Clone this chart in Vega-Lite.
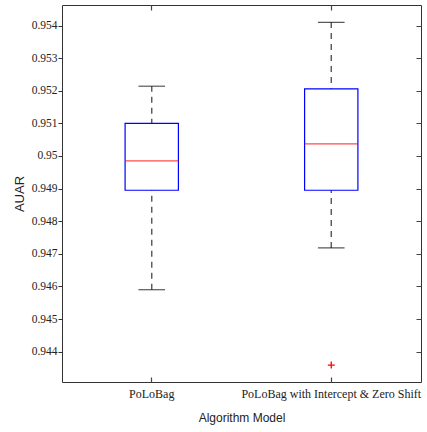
{
  "$schema": "https://vega.github.io/schema/vega-lite/v6.json",
  "width": 359,
  "height": 377,
  "autosize": {"type": "none"},
  "padding": {"left": 62, "top": 5, "right": 6, "bottom": 50},
  "background": "white",
  "config": {
    "view": {"stroke": "#333333", "strokeWidth": 1},
    "axis": {
      "grid": false, "domain": false,
      "labelFont": "Liberation Serif", "labelColor": "#222222",
      "titleFont": "Liberation Sans", "titleFontWeight": "normal", "titleColor": "#222222"
    },
    "axisBand": {"ticks": true},
    "axisDiscrete": {"ticks": true},
    "axisX": {"ticks": true}
  },
  "datasets": {
    "boxes": [
      {"model": "PoLoBag", "lower": 0.9459, "q1": 0.94895, "median": 0.94985, "q3": 0.951, "upper": 0.95214},
      {"model": "PoLoBag with Intercept & Zero Shift", "lower": 0.94718, "q1": 0.94895, "median": 0.95037, "q3": 0.95206, "upper": 0.9541}
    ],
    "outliers": [
      {"model": "PoLoBag with Intercept & Zero Shift", "value": 0.94359}
    ]
  },
  "encoding": {
    "x": {
      "field": "model",
      "type": "nominal",
      "sort": ["PoLoBag", "PoLoBag with Intercept & Zero Shift"],
      "scale": {"type": "band", "paddingInner": 0, "paddingOuter": 0},
      "axis": null
    }
  },
  "layer": [
    {
      "data": {"name": "boxes"},
      "mark": {"type": "rule", "stroke": "#555555", "strokeWidth": 1.4, "strokeDash": [6, 5]},
      "encoding": {
        "x": {
          "field": "model", "type": "nominal",
          "sort": ["PoLoBag", "PoLoBag with Intercept & Zero Shift"],
          "axis": {
            "orient": "bottom", "title": "Algorithm Model", "labelAngle": 0,
            "labelFont": "Liberation Serif", "labelFontSize": 12,
            "ticks": true, "offset": -5, "tickSize": 5, "tickColor": "#444444", "tickWidth": 1.2, "tickOpacity": 1, "labelPadding": 6,
            "titleFont": "Liberation Sans", "titleFontSize": 12, "titlePadding": 13
          }
        },
        "y": {
          "field": "lower", "type": "quantitative",
          "scale": {"domain": [0.94307, 0.95463], "nice": false, "zero": false},
          "axis": {
            "orient": "left", "title": "AUAR",
            "values": [0.944, 0.945, 0.946, 0.947, 0.948, 0.949, 0.95, 0.951, 0.952, 0.953, 0.954],
            "format": ".3~f",
            "labelFont": "Liberation Serif", "labelFontSize": 11.5,
            "tickSize": 4, "tickColor": "#333333", "labelPadding": 1,
            "titleFont": "Liberation Sans", "titleFontSize": 13, "titlePadding": 5
          }
        },
        "y2": {"field": "upper"}
      }
    },
    {
      "data": {"name": "boxes"},
      "mark": {"type": "bar", "fill": "white", "stroke": "#0000ff", "strokeWidth": 1.2, "width": {"band": 0.297}},
      "encoding": {
        "x": {
          "field": "model", "type": "nominal",
          "sort": ["PoLoBag", "PoLoBag with Intercept & Zero Shift"],
          "axis": {"orient": "top", "labels": false, "title": null, "ticks": true, "offset": -5, "tickSize": 5, "tickColor": "#444444", "tickWidth": 1.2, "tickOpacity": 1}
        },
        "y": {
          "field": "q1", "type": "quantitative",
          "axis": {
            "orient": "right", "labels": false, "title": null, "offset": -5, "tickSize": 5, "tickColor": "#444444",
            "values": [0.944, 0.945, 0.946, 0.947, 0.948, 0.949, 0.95, 0.951, 0.952, 0.953, 0.954]
          }
        },
        "y2": {"field": "q3"}
      }
    },
    {
      "data": {"name": "boxes"},
      "mark": {"type": "tick", "color": "#111111", "size": 26.6, "thickness": 1.2},
      "encoding": {"y": {"field": "upper", "type": "quantitative", "axis": null}}
    },
    {
      "data": {"name": "boxes"},
      "mark": {"type": "tick", "color": "#111111", "size": 26.6, "thickness": 1.2},
      "encoding": {"y": {"field": "lower", "type": "quantitative", "axis": null}}
    },
    {
      "data": {"name": "boxes"},
      "mark": {"type": "tick", "color": "#ff0000", "size": 53.3, "thickness": 1.2},
      "encoding": {"y": {"field": "median", "type": "quantitative", "axis": null}}
    },
    {
      "data": {"name": "outliers"},
      "mark": {"type": "point", "shape": "M-1,0L1,0M0,-1L0,1", "size": 49, "filled": false, "stroke": "#ff0000", "strokeWidth": 1.3, "opacity": 1},
      "encoding": {"y": {"field": "value", "type": "quantitative", "axis": null}}
    }
  ]
}
